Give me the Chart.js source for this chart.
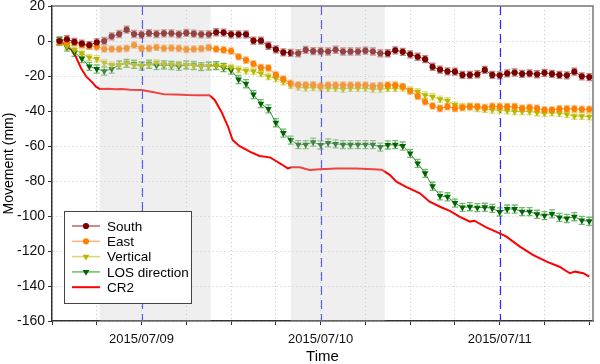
<!DOCTYPE html>
<html>
<head>
<meta charset="utf-8">
<title>Movement</title>
<script src="https://cdn.jsdelivr.net/npm/chart.js@4.4.1/dist/chart.umd.min.js"></script>
<style>
  html, body { margin: 0; padding: 0; background: #fff; }
  #wrap { width: 600px; height: 364px; }
</style>
</head>
<body>
<div id="wrap"><canvas id="movementChart" width="600" height="364"></canvas></div>
<script>
'use strict';

// hours counted from 2015/07/09 00:00
const hours = [
  -11, -10, -9, -8, -7, -6, -5, -4, -3, -2, -1,
  0, 1, 2, 3, 4, 5, 6, 7, 8, 9, 10, 11,
  12, 13, 14, 15, 16, 17, 18, 19, 20, 21, 22, 23,
  24, 25, 26, 27, 28, 29, 30, 31, 32, 33, 34, 35,
  36, 37, 38, 39, 40, 41, 42, 43, 44, 45, 46, 47,
  48, 49, 50, 51, 52, 53, 54, 55, 56, 57, 58, 59, 60
];

const southValues = [
  0, 1, -0.5, -1.5, -2.3, -0.8, 0, 2.7, 4, 6.5, 4,
  3.6, 4.5, 4, 4.4, 4.4, 3.8, 4.6, 4.2, 3.8, 3.8, 5, 4.8,
  3.8, 3.8, 3.8, 0.2, 0.2, -2.7, -4.8, -6.5, -6.8, -7, -5.1, -5.8,
  -5.8, -6, -5, -6, -6, -6, -5.5, -6, -7, -7, -5.3, -6.2,
  -7.6, -9, -10.4, -14.7, -16.4, -17.4, -17.5, -19.4, -19.4, -19, -16.5, -19.4,
  -19.6, -18.5, -18, -18.8, -18.5, -19, -18.2, -18.8, -19.4, -19.6, -17.5, -20.2, -20.6
];

const eastValues = [
  -0.5, -0.8, -1, -2.3, -2.9, -3.2, -4.6, -4.6, -4.6, -4.2, -2.3,
  -4.2, -4.2, -3.6, -4.2, -4, -4.2, -4.8, -4.6, -4.4, -3.8, -4.6, -5.1,
  -5.7, -9, -10.9, -13, -15.2, -15.4, -19.4, -21.7, -24.2, -25, -25.1, -25,
  -25.7, -25.2, -25.2, -25.2, -25.2, -25.2, -25.2, -25.8, -25.5, -25.2, -25.2, -26,
  -28.6, -31.5, -34.7, -37.1, -38.5, -37.5, -38.5, -38, -37.5, -37.5, -38, -37.3,
  -37.5, -37.5, -37.5, -38.5, -38, -38.5, -39.4, -39.4, -38.8, -38.8, -38.8, -39, -39
];

const verticalValues = [
  -0.5, -2.9, -5.1, -7, -9.4, -10.2, -12.5, -13.7, -13.7, -12.8, -13.7,
  -13.9, -13.5, -12.4, -13.3, -13.5, -13.5, -13.7, -14.1, -14.5, -14.3, -14.1, -14.5,
  -15.2, -16.2, -17, -17.3, -18.5, -20.2, -21.4, -23.2, -25.2, -26.3, -26.8, -26.6,
  -26.8, -27, -27, -27.5, -27, -27, -27, -27.5, -27.5, -27, -27, -26.8,
  -28, -29, -30.9, -31.8, -33.3, -34.1, -36.6, -37.5, -37.5, -38.5, -39, -39.4,
  -39.4, -39.8, -40.3, -40.3, -40.3, -40.9, -41.3, -40.9, -41.3, -41.9, -42.9, -42.9, -43.2
];

const losValues = [
  0, -3.5, -6.5, -10, -14.5, -16, -17.2, -16, -13.7, -12.8, -13.3,
  -14.3, -13.3, -14, -13.7, -14, -14.5, -13.7, -14, -14.6, -14.3, -14.1, -15.2,
  -16.6, -22, -24.4, -30.6, -35.8, -38.8, -46.7, -52.6, -56.6, -59.2, -59.2, -57.8,
  -59.4, -58.2, -58.8, -59.2, -59.2, -59.2, -59.2, -59.2, -60.6, -59.4, -59.2, -60,
  -64.2, -69.9, -75.6, -83, -88.5, -89, -92.6, -95.1, -94.7, -95.2, -95, -95.6,
  -97.7, -96, -96, -97.5, -97.5, -99, -99.8, -98.8, -100.8, -101.4, -100.4, -102.5, -103
];

const cr2Hours = [
  -10.8, -10.5, -9.4, -8.8, -8.1, -7.4, -6.7, -6.1, -5.6, -4.5, -3.5, -2.7, -1.5,
  0, 1.3, 3.1, 4.5, 6.2, 7.5, 9.1, 9.8, 10.7, 11.6, 12.2, 13.1, 14.5, 15.8, 17.2,
  17.8, 18.7, 19.6, 20.1, 21.2, 22.5, 23.9, 26.1, 28.8, 31, 32.2, 32.8, 33.3, 34.15,
  35.5, 35.9, 37.3, 38.6, 40, 41.3, 42.6, 44, 44.6, 46.2, 48, 48.9, 50.7, 52.5,
  54.3, 56, 57.4, 58.1, 59.2, 60
];
const cr2Values = [
  0, -1.3, -5, -9, -15.6, -20.4, -23.2, -26.1, -27.4, -27.3, -27.6, -27.4, -27.8,
  -28, -29, -30.5, -30.6, -30.9, -31, -31, -33.7, -40.4, -49, -56.6, -60, -63.2, -65.7, -66.5,
  -68, -70.3, -72.8, -72.2, -72.2, -73.7, -73.3, -72.8, -72.8, -73.3, -73.6, -75.2, -76.6, -80.4,
  -83.5, -84.2, -87, -91.8, -94.7, -97.1, -100.4, -103.2, -102.7, -106.5, -109.9, -111.8, -117.5, -122.3,
  -126.1, -129, -132.7, -131.8, -132.7, -134.7
];

const southErr = 2;
const eastErr = 1.8;
const verticalErr = 1.8;
const losErr = 2.3;

const dayHours = [0, 24, 48];
const dayLabels = ['2015/07/09', '2015/07/10', '2015/07/11'];

// grey night bands (hours)
const nightStart = [-5.6, 20];
const nightEnd = [9.25, 32.6];


const toPoints = function (xs, ys) {
  return xs.map((x, i) => ({ x: x, y: ys[i] }));
}

const errorBars = {
  id: 'errorBars',
  beforeDatasetsDraw(chart) {
    const { ctx, scales: { x, y } } = chart;
    chart.data.datasets.forEach((ds) => {
      if (!ds.err) return;
      ctx.save();
      ctx.strokeStyle = ds.errColor;
      ctx.lineWidth = 1.3;
      ds.data.forEach((p) => {
        const px = x.getPixelForValue(p.x);
        const top = y.getPixelForValue(p.y + ds.err);
        const bot = y.getPixelForValue(p.y - ds.err);
        ctx.beginPath();
        ctx.moveTo(px, top); ctx.lineTo(px, bot);
        ctx.moveTo(px - 3, top); ctx.lineTo(px + 3, top);
        ctx.moveTo(px - 3, bot); ctx.lineTo(px + 3, bot);
        ctx.stroke();
      });
      ctx.restore();
    });
  }
};

const dayLines = {
  id: 'dayLines',
  beforeDatasetsDraw(chart) {
    const { ctx, chartArea, scales: { x } } = chart;
    ctx.save();
    ctx.strokeStyle = '#2a2aff';
    ctx.lineWidth = 1.2;
    ctx.setLineDash([9, 5]);
    dayHours.forEach((h) => {
      const px = Math.round(x.getPixelForValue(h)) + 0.5;
      ctx.beginPath();
      ctx.moveTo(px, chartArea.top);
      ctx.lineTo(px, chartArea.bottom);
      ctx.stroke();
    });
    ctx.restore();
  }
};

const nightBands = {
  id: 'nightBands',
  afterDatasetsDraw(chart) {
    const { ctx, chartArea, scales: { x } } = chart;
    ctx.save();
    ctx.fillStyle = 'rgba(205,205,205,0.32)';
    for (let i = 0; i < nightStart.length; i++) {
      const x0 = x.getPixelForValue(nightStart[i]);
      const x1 = x.getPixelForValue(nightEnd[i]);
      ctx.fillRect(x0, chartArea.top, x1 - x0, chartArea.bottom - chartArea.top);
    }
    ctx.restore();
  }
};

const frameAndLegend = {
  id: 'frameAndLegend',
  afterDraw(chart) {
    const { ctx, chartArea } = chart;
    ctx.save();

    // top and right edges of the frame
    ctx.strokeStyle = '#777';
    ctx.lineWidth = 1.5;
    ctx.beginPath();
    ctx.moveTo(chartArea.left, chartArea.top);
    ctx.lineTo(chartArea.right, chartArea.top);
    ctx.lineTo(chartArea.right, chartArea.bottom);
    ctx.stroke();

    // legend box
    const boxLeft = chartArea.left + 12;
    const boxTop = chartArea.bottom - 110;
    const boxW = 127;
    const boxH = 92;
    ctx.fillStyle = '#fff';
    ctx.fillRect(boxLeft, boxTop, boxW, boxH);
    ctx.strokeStyle = '#444';
    ctx.lineWidth = 1;
    ctx.strokeRect(boxLeft + 0.5, boxTop + 0.5, boxW, boxH);

    ctx.font = '13.5px Arial, "Liberation Sans", sans-serif';
    ctx.textBaseline = 'middle';
    chart.data.datasets.forEach((ds, i) => {
      const ly = boxTop + 15 + i * 15.3;
      ctx.strokeStyle = ds.legendLine || ds.borderColor;
      ctx.lineWidth = ds.err ? 1.5 : 2;
      ctx.beginPath();
      ctx.moveTo(boxLeft + 8, ly);
      ctx.lineTo(boxLeft + 36, ly);
      ctx.stroke();
      if (ds.err) {
        ctx.fillStyle = ds.pointBackgroundColor;
        Chart.helpers.drawPoint(ctx, {
          pointStyle: ds.pointStyle,
          radius: ds.pointRadius,
          rotation: ds.pointRotation || 0,
          borderWidth: 0
        }, boxLeft + 22, ly);
      }
      ctx.fillStyle = '#000';
      ctx.fillText(ds.label, boxLeft + 43, ly + 1);
    });
    ctx.restore();
  }
};


const ctx = document.getElementById('movementChart').getContext('2d');

const movementChart = new Chart(ctx, {
  type: 'line',
  data: {
    datasets: [
      {
        label: 'South',
        data: toPoints(hours, southValues),
        err: southErr,
        errColor: 'rgba(150,50,50,0.6)',
        borderColor: 'rgba(128,0,0,0.8)',
        legendLine: 'rgba(150,40,40,0.7)',
        borderWidth: 1,
        pointStyle: 'circle',
        pointRadius: 3.1,
        pointBackgroundColor: '#7a0000',
        pointBorderWidth: 0
      },
      {
        label: 'East',
        data: toPoints(hours, eastValues),
        err: eastErr,
        errColor: 'rgba(255,140,40,0.55)',
        borderColor: 'rgba(255,128,0,0.85)',
        legendLine: 'rgba(255,150,60,0.7)',
        borderWidth: 1,
        pointStyle: 'circle',
        pointRadius: 3.1,
        pointBackgroundColor: '#ff8000',
        pointBorderWidth: 0
      },
      {
        label: 'Vertical',
        data: toPoints(hours, verticalValues),
        err: verticalErr,
        errColor: 'rgba(200,200,40,0.6)',
        borderColor: 'rgba(190,190,0,0.85)',
        legendLine: 'rgba(200,200,50,0.7)',
        borderWidth: 1,
        pointStyle: 'triangle',
        pointRotation: 180,
        pointRadius: 3.9,
        pointBackgroundColor: '#b8b800',
        pointBorderWidth: 0
      },
      {
        label: 'LOS direction',
        data: toPoints(hours, losValues),
        err: losErr,
        errColor: 'rgba(40,150,40,0.65)',
        borderColor: 'rgba(20,130,20,0.85)',
        legendLine: 'rgba(50,160,50,0.7)',
        borderWidth: 1,
        pointStyle: 'triangle',
        pointRotation: 180,
        pointRadius: 3.9,
        pointBackgroundColor: '#006400',
        pointBorderWidth: 0
      },
      {
        label: 'CR2',
        data: toPoints(cr2Hours, cr2Values),
        borderColor: '#ff0000',
        borderWidth: 2,
        pointRadius: 0,
        tension: 0
      }
    ]
  },
  options: {
    responsive: false,
    animation: false,
    devicePixelRatio: 1,
    layout: { padding: { left: 0, top: 6, right: 7, bottom: 0 } },
    plugins: {
      legend: { display: false },
      tooltip: { enabled: false }
    },
    scales: {
      x: {
        type: 'linear',
        min: -12,
        max: 60.5,
        afterFit: (scale) => {
          scale.height = 43;
          scale.paddingLeft = 0;
          scale.paddingRight = 0;
        },
        ticks: {
          stepSize: 6,
          includeBounds: false,
          autoSkip: false,
          maxRotation: 0,
          padding: 7,
          color: '#111',
          font: { family: 'Arial, "Liberation Sans", sans-serif', size: 13 },
          callback: (value) => {
            const k = dayHours.indexOf(value);
            return k >= 0 ? dayLabels[k] : '';
          }
        },
        grid: { color: '#c8c8c8', lineWidth: 1, tickLength: 4, tickColor: '#333', tickBorderDash: [] },
        border: { color: '#333', width: 1.5, dash: [1, 3] },
        title: {
          display: true,
          text: 'Time',
          color: '#000',
          padding: { top: 0, bottom: -2 },
          font: { family: 'Arial, "Liberation Sans", sans-serif', size: 15 }
        }
      },
      y: {
        min: -160,
        max: 20,
        afterFit: (scale) => {
          scale.width = 52;
          scale.paddingTop = 0;
          scale.paddingBottom = 0;
        },
        ticks: {
          stepSize: 20,
          padding: 3,
          color: '#111',
          font: { family: 'Arial, "Liberation Sans", sans-serif', size: 14 }
        },
        grid: { color: '#c8c8c8', lineWidth: 1, tickLength: 4, tickColor: '#333', tickBorderDash: [] },
        border: { color: '#333', width: 1.5, dash: [1, 3] },
        title: {
          display: true,
          text: 'Movement (mm)',
          color: '#000',
          padding: { top: 1, bottom: 0 },
          font: { family: 'Arial, "Liberation Sans", sans-serif', size: 14 }
        }
      }
    }
  },
  plugins: [errorBars, dayLines, nightBands, frameAndLegend]
});
</script>
</body>
</html>
